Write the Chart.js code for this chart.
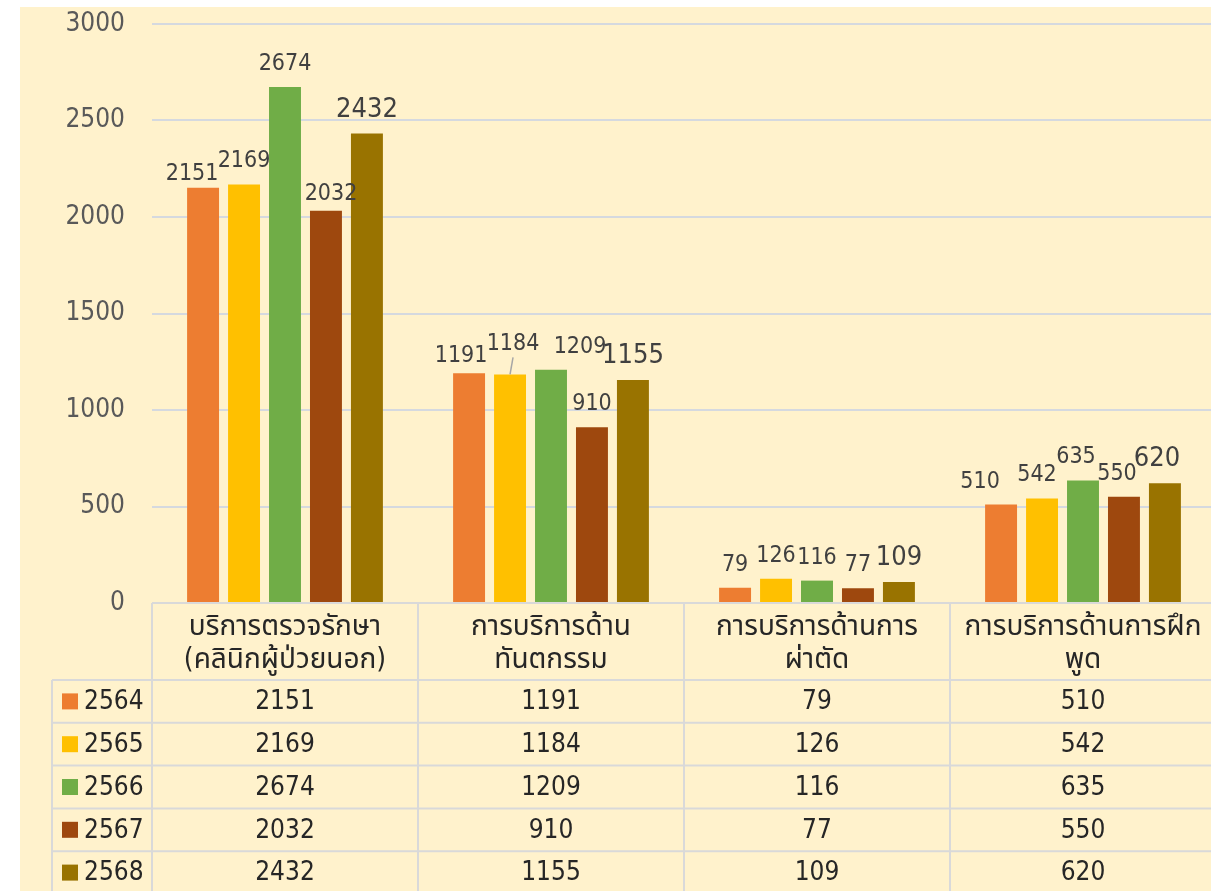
<!DOCTYPE html>
<html>
<head>
<meta charset="utf-8">
<script src="https://cdn.jsdelivr.net/npm/chart.js@4.4.0/dist/chart.umd.min.js"></script>
<style>
  html, body { margin: 0; padding: 0; background: #fff; overflow: hidden; }
  #wrap { position: relative; width: 1216px; height: 891px; }
</style>
</head>
<body>
<div id="wrap"><canvas id="chart" width="1216" height="891"></canvas></div>
<script>
// Data
const categories = [
  ['บริการตรวจรักษา', '(คลินิกผู้ป่วยนอก)'],
  ['การบริการด้าน', 'ทันตกรรม'],
  ['การบริการด้านการ', 'ผ่าตัด'],
  ['การบริการด้านการฝึก', 'พูด'],
];
const years = ['2564', '2565', '2566', '2567', '2568'];
const v2564 = [2151, 1191, 79, 510];
const v2565 = [2169, 1184, 126, 542];
const v2566 = [2674, 1209, 116, 635];
const v2567 = [2032, 910, 77, 550];
const v2568 = [2432, 1155, 109, 620];
const series = [v2564, v2565, v2566, v2567, v2568];
const yTicks = [0, 500, 1000, 1500, 2000, 2500, 3000];

const colors = ['#ED7D31', '#FFC000', '#70AD47', '#9E480E', '#997300'];
const FONT = '"DejaVu Sans Condensed", "DejaVu Sans", "Noto Sans Thai", "Tahoma", sans-serif';
const CREAM = '#FFF2CC';
const LINE = '#D9D9D9';

// hand-moved labels (series-category): dx, gap above bar, leader line
const labelNudge = {
  '0-0': { dx: -11, gap: 8 },
  '3-0': { dx: 5, gap: 11 },
  '0-1': { dx: -8, gap: 11 },
  '1-1': { dx: 3, gap: 24, leader: true },
  '2-1': { dx: 29 },
  '0-3': { dx: -21 },
  '1-3': { dx: -5 },
  '2-3': { dx: -7 },
  '3-3': { dx: -7 },
  '4-3': { dx: -8 },
};

// Background: white margin on top/left, cream panel
const bgPlugin = {
  id: 'bg',
  beforeDraw(chart) {
    const c = chart.ctx;
    c.save();
    c.fillStyle = '#fff';
    c.fillRect(0, 0, chart.width, chart.height);
    c.fillStyle = CREAM;
    c.fillRect(20, 7, chart.width - 20, chart.height - 7);
    c.restore();
  }
};

// Value labels above bars
const labelPlugin = {
  id: 'barLabels',
  afterDatasetsDraw(chart) {
    const c = chart.ctx;
    c.save();
    c.textAlign = 'center';
    c.textBaseline = 'alphabetic';
    chart.data.datasets.forEach((ds, i) => {
      c.font = (i === 4 ? 27 : 23) + 'px ' + FONT;
      chart.getDatasetMeta(i).data.forEach((bar, j) => {
        const n = labelNudge[i + '-' + j] || {};
        const x = bar.x + (n.dx || 0);
        const y = bar.y - (n.gap || 17);
        if (n.leader) {
          c.strokeStyle = '#A6A6A6';
          c.lineWidth = 1.5;
          c.beginPath();
          c.moveTo(x, y + 7);
          c.lineTo(bar.x, bar.y);
          c.stroke();
        }
        c.fillStyle = '#404040';
        c.fillText(String(ds.data[j]), x, y);
      });
    });
    c.restore();
  }
};

// Data table under the plot
const tablePlugin = {
  id: 'dataTable',
  afterDraw(chart) {
    const c = chart.ctx;
    const area = chart.chartArea;
    const top = area.bottom;
    const headH = 77;
    const rowH = 42.8;
    const n = categories.length;
    const colW = (area.right - area.left) / n;
    const legendLeft = 52;
    const H = chart.height;

    c.save();
    c.strokeStyle = LINE;
    c.lineWidth = 2;
    c.beginPath();
    // horizontal
    c.moveTo(area.left, top); c.lineTo(area.right, top);
    for (let r = 0; r < years.length; r++) {
      const y = top + headH + r * rowH;
      c.moveTo(legendLeft, y); c.lineTo(area.right, y);
    }
    // vertical
    c.moveTo(legendLeft, top + headH); c.lineTo(legendLeft, H);
    for (let k = 0; k <= n; k++) {
      const x = area.left + k * colW;
      c.moveTo(x, top); c.lineTo(x, H);
    }
    c.stroke();

    // header
    c.fillStyle = '#262626';
    c.textAlign = 'center';
    c.textBaseline = 'middle';
    c.font = '28px ' + FONT;
    categories.forEach((lines, k) => {
      const cx = area.left + (k + 0.5) * colW;
      lines.forEach((t, li) => c.fillText(t, cx, top + 25 + li * 33));
    });

    // rows
    c.font = '26px ' + FONT;
    years.forEach((yr, r) => {
      const cy = top + headH + (r + 0.5) * rowH;
      c.fillStyle = colors[r];
      c.fillRect(62, cy - 8, 16, 16);
      c.fillStyle = '#262626';
      c.textAlign = 'left';
      c.fillText(yr, 84, cy + 1);
      c.textAlign = 'center';
      series[r].forEach((v, k) => {
        c.fillText(String(v), area.left + (k + 0.5) * colW, cy + 1);
      });
    });
    c.restore();
  }
};

const ctx = document.getElementById('chart').getContext('2d');
new Chart(ctx, {
  type: 'bar',
  data: {
    labels: categories.map(l => l.join(' ')),
    datasets: years.map((yr, i) => ({
      label: yr,
      data: series[i],
      backgroundColor: colors[i],
      barPercentage: 0.78,
      categoryPercentage: 0.77,
    })),
  },
  options: {
    responsive: false,
    animation: false,
    devicePixelRatio: 1,
    layout: { padding: { top: 0, bottom: 288, left: 0, right: 0 } },
    plugins: { legend: { display: false }, tooltip: { enabled: false } },
    scales: {
      x: { display: false },
      y: {
        min: yTicks[0],
        max: yTicks[yTicks.length - 1],
        afterBuildTicks(s) { s.ticks = yTicks.map(v => ({ value: v })); },
        afterFit(s) {
          s.width = 152;
          s.paddingTop = 24;
          s.paddingBottom = 16;
        },
        ticks: {
          color: '#595959',
          font: { size: 26, family: FONT },
          padding: 27,
          callback: v => String(v),
        },
        grid: { color: '#D5D9DF', lineWidth: 2, drawTicks: false },
        border: { display: false },
      },
    },
  },
  plugins: [bgPlugin, labelPlugin, tablePlugin],
});
</script>
</body>
</html>
